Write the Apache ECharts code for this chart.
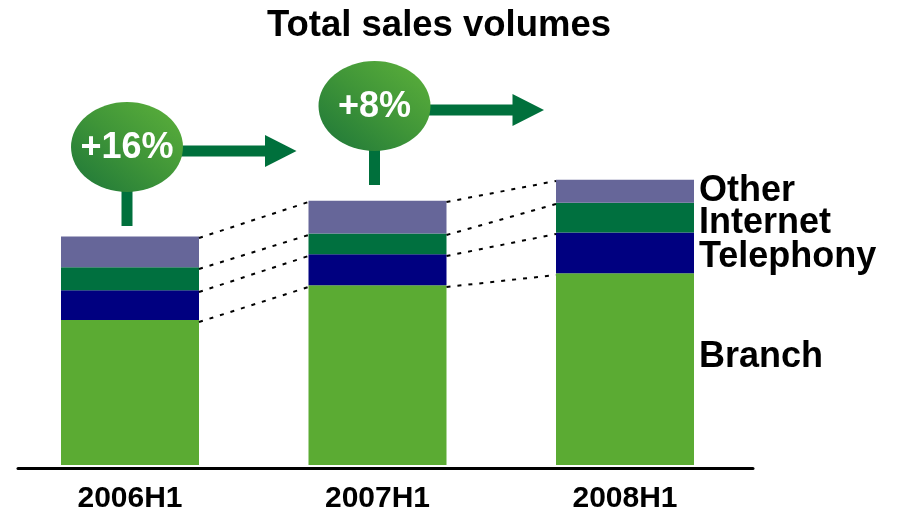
<!DOCTYPE html>
<html>
<head>
<meta charset="utf-8">
<script src="https://cdn.jsdelivr.net/npm/echarts@6/dist/echarts.min.js"></script>
<style>
  html, body { margin: 0; padding: 0; background: #fff; }
  #chart { width: 901px; height: 514px; }
</style>
</head>
<body>
<div id="chart"></div>
<script>
// Half-year sales volumes by channel
const categories = ['2006H1', '2007H1', '2008H1'];
const branch    = [146, 181, 193];
const telephony = [30, 31, 41];
const internet  = [23, 21, 30];
const other     = [31, 33, 23];

const FONT = '"Liberation Sans", Arial, Helvetica, sans-serif';
const BAR_WIDTH = 138;
const BAND = 247.5;          // width of one category band, px
const FIRST_CENTER = 130;    // centre of the first band, px
const BASE_LEFT = 18, BASE_RIGHT = 753;  // extent of the baseline, px

// the bar grid is sized so that each category gets one band
const barGridLeft = FIRST_CENTER - BAND / 2;
const barGridRight = 901 - (barGridLeft + BAND * categories.length);

// the overlay grid carries a numeric x axis aligned with the categories
const X_MIN = (BASE_LEFT - FIRST_CENTER) / BAND;
const X_MAX = (BASE_RIGHT - FIRST_CENTER) / BAND;
const halfBar = (BAR_WIDTH / 2) / BAND;

// cumulative tops for each layer
const layers = [branch, telephony, internet, other];
const tops = layers.map((_, li) =>
  categories.map((_, ci) => layers.slice(0, li + 1).reduce((s, arr) => s + arr[ci], 0)));
const totals = tops[tops.length - 1];

// period-on-period growth of the total, in percent
const growth = categories.slice(1).map((_, i) => Math.round((totals[i + 1] / totals[i] - 1) * 100));

function barSeries(name, values, color, labelOffset) {
  return {
    name: name,
    type: 'bar',
    stack: 'total',
    xAxisIndex: 0,
    yAxisIndex: 0,
    barWidth: BAR_WIDTH,
    itemStyle: { color: color },
    emphasis: { disabled: true },
    data: values.map((v, i) => {
      const item = { value: v };
      if (i === values.length - 1) {
        item.label = {
          show: true,
          position: 'right',
          distance: 5,
          offset: [0, labelOffset],
          formatter: name,
          color: '#000',
          fontFamily: FONT,
          fontWeight: 'bold',
          fontSize: 36
        };
      }
      return item;
    })
  };
}

// dotted connectors between the tops of matching layers
const connectorData = [];
tops.forEach(layer => {
  for (let i = 0; i < layer.length - 1; i++) {
    connectorData.push({ coords: [[i + halfBar, layer[i]], [i + 1 - halfBar, layer[i + 1]]] });
  }
});

// growth bubbles sit above the bar they grow from
const bubbleData = growth.map((g, i) => [i, totals[i], g]);
const bubbleLift = [91, 96];

function renderBubble(params, api) {
  const idx = params.dataIndex;
  const p = api.coord([api.value(0), api.value(1)]);
  const cx = p[0] - 3;
  const cy = p[1] - bubbleLift[idx];
  const dark = '#00703c';
  return {
    type: 'group',
    children: [
      { type: 'rect', shape: { x: cx - 5.5, y: cy + 30, width: 11, height: 49 },
        style: { fill: dark } },
      { type: 'polygon',
        shape: { points: [
          [cx + 40, cy - 1.5], [cx + 138, cy - 1.5], [cx + 138, cy - 12],
          [cx + 169.5, cy + 4], [cx + 138, cy + 20], [cx + 138, cy + 9.5], [cx + 40, cy + 9.5]
        ] },
        style: { fill: dark } },
      { type: 'circle', x: cx, y: cy, scaleX: 56 / 45, scaleY: 1,
        shape: { cx: 0, cy: 0, r: 45 },
        style: {
          fill: new echarts.graphic.LinearGradient(0, 1, 1, 0, [
            { offset: 0, color: '#1d7639' },
            { offset: 0.5, color: '#3f9538' },
            { offset: 1, color: '#5db13b' }
          ])
        } },
      { type: 'text', x: cx, y: cy + 1,
        style: {
          text: '+' + api.value(2) + '%',
          fill: '#fff',
          font: 'bold 36px ' + FONT,
          textAlign: 'center',
          textVerticalAlign: 'middle'
        } }
    ]
  };
}

const chart = echarts.init(document.getElementById('chart'), null, { renderer: 'canvas' });
chart.setOption({
  animation: false,
  backgroundColor: '#fff',
  title: {
    text: 'Total sales volumes',
    left: 434,
    textAlign: 'center',
    top: 2,
    textStyle: { fontFamily: FONT, fontWeight: 'bold', fontSize: 36.5, color: '#000' }
  },
  grid: [
    { left: barGridLeft, right: barGridRight, top: 0, bottom: 46 },
    { left: BASE_LEFT, right: 901 - BASE_RIGHT, top: 0, bottom: 46 }
  ],
  xAxis: [
    {
      type: 'category',
      gridIndex: 0,
      data: categories,
      axisLine: { show: false },
      axisTick: { show: false },
      axisLabel: {
        margin: 19,
        color: '#000',
        fontFamily: FONT,
        fontWeight: 'bold',
        fontSize: 30
      }
    },
    {
      type: 'value',
      gridIndex: 1,
      min: X_MIN,
      max: X_MAX,
      splitLine: { show: false },
      axisTick: { show: false },
      axisLabel: { show: false },
      axisLine: { show: true, onZero: false, lineStyle: { color: '#000', width: 3 } }
    }
  ],
  yAxis: [
    { type: 'value', gridIndex: 0, min: 0, max: 468, show: false, splitLine: { show: false } },
    { type: 'value', gridIndex: 1, min: 0, max: 468, show: false, splitLine: { show: false } }
  ],
  series: [
    barSeries('Branch', branch, '#5bab33', -12),
    barSeries('Telephony', telephony, '#000080', 4.5),
    barSeries('Internet', internet, '#00703f', 5),
    barSeries('Other', other, '#666699', 0),
    {
      type: 'lines',
      coordinateSystem: 'cartesian2d',
      xAxisIndex: 1,
      yAxisIndex: 1,
      silent: true,
      z: 3,
      lineStyle: { color: '#000', width: 2, type: [4, 7], opacity: 1, curveness: 0 },
      data: connectorData
    },
    {
      type: 'custom',
      xAxisIndex: 1,
      yAxisIndex: 1,
      silent: true,
      clip: false,
      z: 5,
      encode: { x: 0, y: 1 },
      renderItem: renderBubble,
      data: bubbleData
    }
  ]
});
</script>
</body>
</html>
